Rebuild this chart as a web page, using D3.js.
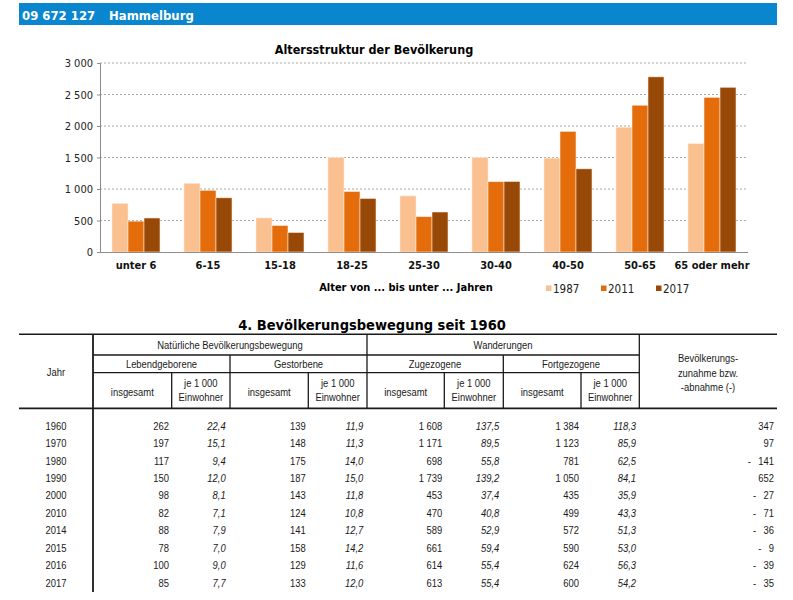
<!DOCTYPE html>
<html>
<head>
<meta charset="utf-8">
<script src="https://cdn.jsdelivr.net/npm/d3@7"></script>
<style>
  html, body { margin: 0; padding: 0; background: #fff; }
  svg { display: block; }
</style>
</head>
<body>
<svg id="c" width="793" height="600"></svg>
<script>
// ---- Chart data ----
const categories = ["unter 6","6-15","15-18","18-25","25-30","30-40","40-50","50-65","65 oder mehr"];
const seriesNames = ["1987","2011","2017"];
const values1987 = [770,1090,540,1500,890,1500,1490,1980,1720];
const values2011 = [490,980,420,960,560,1115,1915,2330,2455];
const values2017 = [540,860,310,850,635,1120,1320,2780,2615];
const yTicks = [0,500,1000,1500,2000,2500,3000];

// ---- Table data ----
const years      = [1960,1970,1980,1990,2000,2010,2014,2015,2016,2017];
const lebendInsg = [262,197,117,150,98,82,88,78,100,85];
const lebendJe   = [22.4,15.1,9.4,12.0,8.1,7.1,7.9,7.0,9.0,7.7];
const gestInsg   = [139,148,175,187,143,124,141,158,129,133];
const gestJe     = [11.9,11.3,14.0,15.0,11.8,10.8,12.7,14.2,11.6,12.0];
const zugInsg    = [1608,1171,698,1739,453,470,589,661,614,613];
const zugJe      = [137.5,89.5,55.8,139.2,37.4,40.8,52.9,59.4,55.4,55.4];
const fortInsg   = [1384,1123,781,1050,435,499,572,590,624,600];
const fortJe     = [118.3,85.9,62.5,84.1,35.9,43.3,51.3,53.0,56.3,54.2];
const saldo      = [347,97,-141,652,-27,-71,-36,-9,-39,-35];

const colors = {"1987":"#fac090","2011":"#e46c0a","2017":"#984807"};
const chartFont = "'DejaVu Sans Condensed','DejaVu Sans',sans-serif";
const tableFont = "'Liberation Sans',Arial,sans-serif";

const svg = d3.select("#c");

// ---- Header bar ----
svg.append("rect").attr("x",19).attr("y",3).attr("width",758).attr("height",22).attr("fill","#0a86cf");
svg.append("text").attr("x",22).attr("y",19.5).attr("fill","#fff")
  .style("font-family",chartFont).style("font-stretch","condensed").style("font-weight","bold").style("font-size","13px")
  .text("09 672 127");
svg.append("text").attr("x",109).attr("y",19.5).attr("fill","#fff")
  .style("font-family",chartFont).style("font-stretch","condensed").style("font-weight","bold").style("font-size","13px")
  .text("Hammelburg");

// ---- Chart ----
const x0 = d3.scaleBand().domain(categories).range([100,748]).paddingInner(1/3).paddingOuter(1/6);
const x1 = d3.scaleBand().domain(seriesNames).range([0,x0.bandwidth()]).padding(0);
const y = d3.scaleLinear().domain([0,3000]).range([252,63]);

svg.append("text").attr("x",374).attr("y",54).attr("text-anchor","middle")
  .style("font-family",chartFont).style("font-stretch","condensed").style("font-weight","bold").style("font-size","12.5px")
  .text("Altersstruktur der Bevölkerung");

// gridlines
svg.append("g").selectAll("line").data(yTicks.filter(d=>d>0)).join("line")
  .attr("x1",100).attr("x2",748).attr("y1",d=>y(d)).attr("y2",d=>y(d))
  .attr("stroke","#a6a6a6").attr("stroke-width",1).attr("stroke-dasharray","2,2");

// bars
const seriesData = {"1987":values1987,"2011":values2011,"2017":values2017};
const bars = [];
categories.forEach((c,i)=>seriesNames.forEach(s=>bars.push({c, s, v: seriesData[s][i]})));
svg.append("g").selectAll("rect").data(bars).join("rect")
  .attr("x",d=>x0(d.c)+x1(d.s)).attr("width",x1.bandwidth())
  .attr("y",d=>y(d.v)).attr("height",d=>y(0)-y(d.v))
  .attr("fill",d=>colors[d.s]).attr("stroke","#fde9d9").attr("stroke-width",0.6);

// y axis
const yAxis = d3.axisLeft(y).tickValues(yTicks).tickSize(3).tickPadding(4)
  .tickFormat(d=>d3.format(",")(d).replace(/,/g," "));
const gy = svg.append("g").attr("transform","translate(100,0)").call(yAxis);
gy.select(".domain").attr("stroke","#8c8c8c");
gy.selectAll(".tick line").attr("stroke","#8c8c8c");
gy.selectAll(".tick text").attr("fill","#222").style("font-family",chartFont).style("font-stretch","condensed").style("font-size","11px");

// x axis
const xAxis = d3.axisBottom(x0).tickSize(0).tickPadding(9);
const gx = svg.append("g").attr("transform","translate(0,252)").call(xAxis);
gx.select(".domain").attr("stroke","#8c8c8c").attr("stroke-width",1.2).attr("d","M97,0.5H748");
gx.selectAll(".tick text").attr("fill","#111").style("font-family",chartFont).style("font-stretch","condensed")
  .style("font-weight","bold").style("font-size","11px");

svg.append("text").attr("x",406).attr("y",291).attr("text-anchor","middle")
  .style("font-family",chartFont).style("font-stretch","condensed").style("font-weight","bold").style("font-size","11px")
  .text("Alter von ... bis unter ... Jahren");

// legend
const legendX = [546,601,656];
const lg = svg.append("g").selectAll("g").data(seriesNames).join("g")
  .attr("transform",(d,i)=>`translate(${legendX[i]},0)`);
lg.append("rect").attr("x",0).attr("y",285.5).attr("width",5.5).attr("height",5.5).attr("fill",d=>colors[d]);
lg.append("text").attr("x",7).attr("y",292.5).attr("fill","#222")
  .style("font-family",chartFont).style("font-stretch","condensed").style("font-size","11.5px").text(d=>d);

// ---- Table ----
svg.append("text").attr("x",372).attr("y",330).attr("text-anchor","middle")
  .style("font-family",chartFont).style("font-stretch","condensed").style("font-weight","bold").style("font-size","14.5px")
  .text("4. Bevölkerungsbewegung seit 1960");

const tl = svg.append("g").attr("stroke","#1a1a1a");
function hline(x1,x2,yy,w){ tl.append("line").attr("x1",x1).attr("x2",x2).attr("y1",yy).attr("y2",yy).attr("stroke-width",w); }
function vline(xx,y1,y2,w){ tl.append("line").attr("x1",xx).attr("x2",xx).attr("y1",y1).attr("y2",y2).attr("stroke-width",w); }
hline(19,777,334.3,1.6);
hline(19,777,408.3,1.8);
hline(93,639.3,355,1.3);
hline(93,639.3,372.7,1.3);
vline(93,334.3,592,1.8);
vline(367,334.3,408.3,1.3);
vline(639.3,334.3,408.3,1.3);
[230,503.3].forEach(xx=>vline(xx,355,408.3,1.3));
[171.7,308.3,444.3,581].forEach(xx=>vline(xx,372.7,408.3,1.3));

const SX = 0.82;
function ttext(xx,yy,str,anchor,opts){
  opts = opts||{};
  svg.append("text")
    .attr("transform",`translate(${xx},${yy}) scale(${SX},1)`)
    .attr("text-anchor",anchor||"middle").attr("fill","#1a1a1a")
    .style("font-family",tableFont).style("font-size",(opts.size||11.5)+"px")
    .style("font-style",opts.italic?"italic":"normal")
    .style("white-space","pre")
    .text(str);
}
ttext(56,375.7,"Jahr");
ttext(230,349,"Natürliche Bevölkerungsbewegung");
ttext(503,349,"Wanderungen");
ttext(161.5,367.8,"Lebendgeborene");
ttext(298.5,367.8,"Gestorbene");
ttext(435,367.8,"Zugezogene");
ttext(571,367.8,"Fortgezogene");
const subCenters = [132.3,200.8,269.2,337.7,405.7,473.8,542.2,610.2];
subCenters.forEach((cx,i)=>{
  if(i%2===0){ ttext(cx,395.5,"insgesamt"); }
  else { ttext(cx,386.5,"je 1 000"); ttext(cx,401,"Einwohner"); }
});
ttext(708,362,"Bevölkerungs-");
ttext(708,376.5,"zunahme bzw.");
ttext(708,391,"-abnahme (-)");

const fmtInt = d => d3.format(",")(Math.abs(d)).replace(/,/g," ");
const fmtDec = d => d3.format(".1f")(d).replace(".",",");
const fmtSaldo = d => d<0 ? "- \u2002" + fmtInt(d) : fmtInt(d);
const rowY = d3.scaleLinear().domain([0,years.length-1]).range([429.7,586.7]);
const cols = [
  {data:years, x:56, anchor:"middle", f:d=>String(d)},
  {data:lebendInsg, x:169, anchor:"end", f:fmtInt},
  {data:lebendJe, x:225.7, anchor:"end", f:fmtDec, italic:true},
  {data:gestInsg, x:305.7, anchor:"end", f:fmtInt},
  {data:gestJe, x:363.3, anchor:"end", f:fmtDec, italic:true},
  {data:zugInsg, x:442.3, anchor:"end", f:fmtInt},
  {data:zugJe, x:499.3, anchor:"end", f:fmtDec, italic:true},
  {data:fortInsg, x:579, anchor:"end", f:fmtInt},
  {data:fortJe, x:636, anchor:"end", f:fmtDec, italic:true},
  {data:saldo, x:774, anchor:"end", f:fmtSaldo}
];
cols.forEach(col=>{
  col.data.forEach((v,i)=>ttext(col.x,rowY(i),col.f(v),col.anchor,{italic:col.italic}));
});
</script>
</body>
</html>
